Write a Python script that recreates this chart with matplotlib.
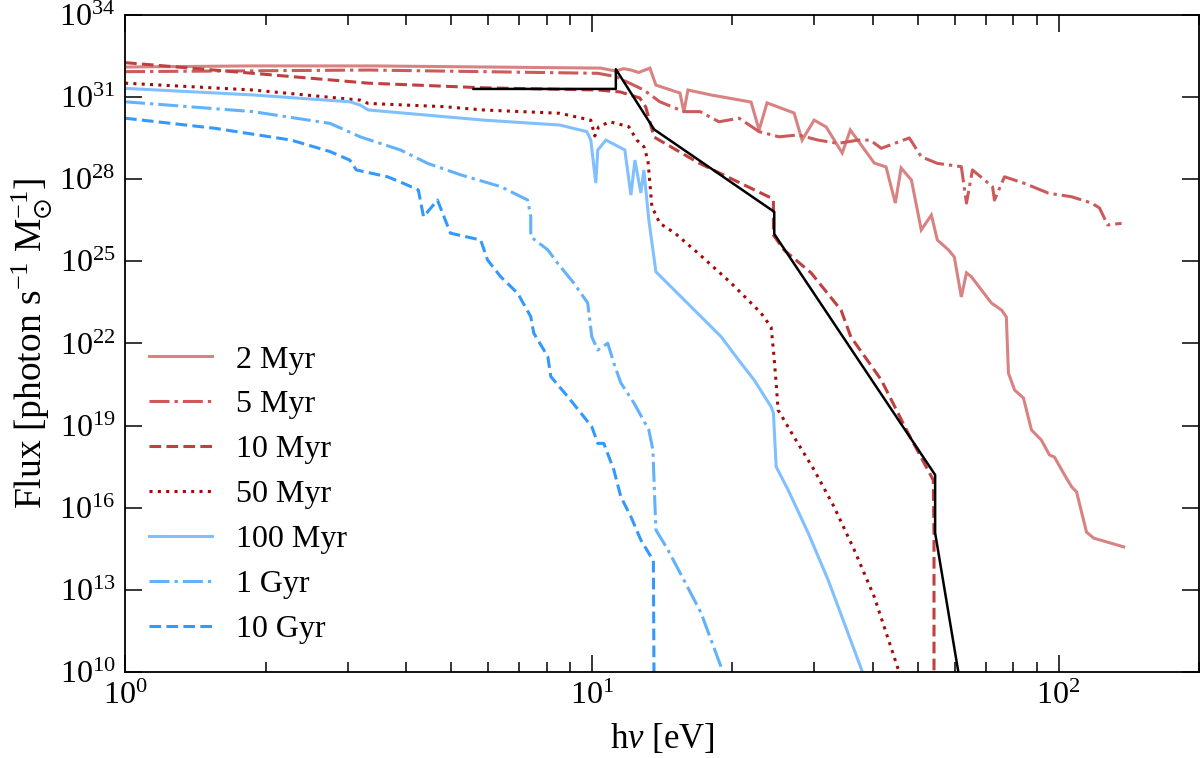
import numpy as np
import matplotlib
matplotlib.use("Agg")
import matplotlib.pyplot as plt
from matplotlib.ticker import FixedLocator, NullLocator, LogLocator, NullFormatter, LogFormatterMathtext

plt.rcParams['font.family'] = ['Liberation Serif', 'DejaVu Serif']
plt.rcParams['mathtext.fontset'] = 'custom'
plt.rcParams['mathtext.rm'] = 'Liberation Serif'
plt.rcParams['mathtext.it'] = 'Liberation Serif:italic'
plt.rcParams['mathtext.bf'] = 'Liberation Serif:bold'
plt.rcParams['mathtext.fallback'] = 'stix'
plt.rcParams['lines.scale_dashes'] = False

# ---------------- data (photon energy in eV, log10 flux) ----------------
e_2myr = [1.00, 1.85, 3.41, 10.46, 11.26, 11.7, 12.13, 12.6, 13.32, 13.72, 15.45, 15.75, 16.07, 18.0,
          21.94, 22.83, 23.74, 27.13, 28.22, 29.95, 31.78, 34.4, 35.8, 40.3, 42.7, 44.7,
          46.0, 48.4, 50.8, 53.4, 55.0, 58.1, 59.8, 61.9, 63.5, 65.1, 71.8, 75.5, 77.3,
          78.1, 80.5, 84.1, 87.5, 91.9, 95.6, 98.0, 103.0, 106.7, 109.3, 114.8, 118.9, 137.9]
f_2myr = [32.10, 32.14, 32.14, 32.06, 31.95, 32.04, 31.99, 31.90, 32.06, 31.44, 31.15, 30.46, 31.26, 31.08,
          30.82, 29.80, 30.79, 30.42, 29.43, 30.16, 29.91, 28.96, 29.80, 28.59, 28.45, 27.13,
          28.41, 27.97, 26.15, 26.69, 25.78, 25.42, 25.16, 23.70, 24.58, 24.43, 23.48, 23.22, 22.97,
          20.92, 20.30, 20.01, 18.84, 18.47, 17.93, 17.85, 17.20, 16.76, 16.58, 15.11, 14.89, 14.57]

e_5myr = [1.00, 3.32, 5.87, 10.3, 11.26, 12.93, 13.99, 15.75, 17.06, 18.73, 20.68, 22.83,
          25.19, 27.67, 30.55, 33.7, 37.2, 39.5, 41.7, 47.9, 50.8, 55.0, 61.9, 63.5, 65.4,
          72.2, 72.9, 76.6, 84.5, 95.2, 106.7, 117.7, 122.4, 127.4, 136.5]
f_5myr = [31.93, 31.99, 31.93, 31.87, 31.75, 31.26, 30.83, 30.47, 30.47, 30.10, 30.23, 29.74,
          29.55, 29.62, 29.43, 29.31, 29.43, 29.43, 29.13, 29.51, 28.82, 28.58, 28.46, 27.13, 28.34,
          27.73, 27.24, 28.09, 27.85, 27.49, 27.36, 27.13, 26.95, 26.33, 26.39]

e_10myr = [1.00, 1.88, 3.32, 5.87, 10.3, 11.5, 12.67, 13.05, 13.6, 16.97, 24.2, 24.5, 24.5,
           25.8, 29.5, 34.2, 35.9, 41.7, 47.6, 53.9, 54.1, 54.1]
f_10myr = [32.26, 31.87, 31.51, 31.34, 31.26, 31.19, 30.97, 30.64, 29.54, 28.59, 27.32, 27.24, 25.96,
           25.42, 24.58, 23.22, 22.24, 20.67, 18.73, 17.01, 15.0, 9.0]

e_50myr = [1.00, 1.88, 3.19, 3.32, 4.84, 5.87, 8.54, 9.95, 10.15, 10.35, 10.93, 12.0, 12.49,
           12.93, 13.19, 13.45, 13.99, 15.07, 16.89, 19.88, 23.05, 24.22, 24.5, 24.83, 25.07,
           27.13, 29.95, 33.05, 36.5, 40.3, 45.4, 46.3]
f_50myr = [31.51, 31.26, 30.89, 30.77, 30.65, 30.53, 30.41, 30.16, 29.58, 29.92, 30.10, 29.92, 29.43,
           29.19, 28.70, 27.0, 26.39, 26.03, 25.30, 24.21, 23.11, 22.60, 21.76, 20.56, 19.57,
           18.58, 17.38, 16.03, 14.46, 12.74, 10.07, 9.5]

e_100myr = [1.00, 1.88, 3.03, 3.19, 3.32, 5.87, 8.54, 9.76, 9.95, 10.2, 10.3, 10.72, 11.77,
            12.13, 12.37, 12.74, 12.93, 13.25, 13.72, 17.14, 18.92, 20.88, 22.27, 24.22, 24.5,
            24.83, 26.34, 29.08, 32.09, 34.74, 37.8, 38.4]
f_100myr = [31.32, 31.08, 30.83, 30.71, 30.53, 30.16, 29.98, 29.74, 29.43, 27.86, 29.07, 29.43, 29.07,
            27.42, 28.70, 27.50, 28.34, 26.51, 24.62, 22.98, 22.25, 21.28, 20.67, 19.69, 19.46,
            17.50, 16.65, 15.08, 13.36, 11.79, 10.11, 9.75]

e_1gyr = [1.00, 1.88, 2.75, 3.19, 3.89, 4.45, 5.24, 6.38, 7.29, 7.40, 7.40, 8.05, 8.45, 9.15,
          9.80, 10.0, 10.3, 10.82, 11.15, 11.54, 12.31, 13.25, 13.52, 13.6, 13.72, 14.56,
          15.75, 17.14, 19.1, 19.4]
f_1gyr = [30.83, 30.47, 30.04, 29.55, 29.07, 28.58, 28.16, 27.73, 27.24, 26.63, 25.90, 25.42, 24.93,
          24.21, 23.48, 22.25, 21.76, 22.01, 21.28, 20.56, 19.83, 18.84, 18.11, 16.90, 15.19, 14.46,
          13.36, 12.16, 10.0, 9.71]

e_10gyr = [1.00, 1.56, 2.27, 2.75, 3.03, 3.13, 3.65, 3.89, 4.25, 4.36, 4.67, 4.98, 5.78, 5.98,
           6.38, 6.94, 7.40, 7.51, 8.05, 8.17, 8.88, 10.0, 10.3, 10.61, 11.15, 11.54, 12.13,
           12.74, 13.39, 13.55, 13.6]
f_10gyr = [30.23, 29.86, 29.43, 29.01, 28.70, 28.34, 28.09, 27.90, 27.61, 26.63, 27.24, 26.03, 25.78,
           25.05, 24.44, 23.83, 22.98, 22.38, 21.52, 20.79, 20.06, 18.96, 18.35, 18.35, 17.38, 16.40,
           15.67, 14.82, 14.21, 14.09, 9.0]

e_ref = [5.58, 11.26, 11.26, 13.6, 24.6, 24.6, 54.4, 54.4, 60.9, 62.0]
f_ref = [31.30, 31.30, 32.02, 29.82, 26.81, 26.00, 17.20, 15.08, 10.07, 9.3]

labels = ['2 Myr', '5 Myr', '10 Myr', '50 Myr', '100 Myr', '1 Gyr', '10 Gyr']
xlim = (1, 200)
ylim = (1e10, 1e34)

# ---------------- styling ----------------
series = [
    (e_2myr, f_2myr, '#d88282', None),
    (e_5myr, f_5myr, '#cc5a5a', (14.4, 3.6, 2.4, 3.6)),
    (e_10myr, f_10myr, '#c04040', (8.4, 3.8)),
    (e_50myr, f_50myr, '#a50a0a', (2.2, 3.8)),
    (e_100myr, f_100myr, '#80c0ff', None),
    (e_1gyr, f_1gyr, '#62b2fb', (14.4, 3.6, 2.4, 3.6)),
    (e_10gyr, f_10gyr, '#3399fa', (8.4, 3.8)),
]

fig = plt.figure(figsize=(12, 7.58), dpi=100)
ax = fig.add_axes([0.1042, 0.1135, 0.895, 0.8667])

for (e, f, c, d), lab in zip(series, labels):
    kw = dict(color=c, lw=2.2, label=lab, solid_joinstyle='miter')
    if d is not None:
        kw['dashes'] = d
        kw['dash_capstyle'] = 'butt'
    ax.plot(e, 10.0 ** np.asarray(f), **kw)

ax.plot(e_ref, 10.0 ** np.asarray(f_ref), color='black', lw=1.8, zorder=5)

ax.set_xscale('log')
ax.set_yscale('log')
ax.set_xlim(*xlim)
ax.set_ylim(*ylim)

ax.yaxis.set_major_locator(FixedLocator(10.0 ** np.arange(10, 35, 3)))
ax.yaxis.set_minor_locator(NullLocator())
ax.yaxis.set_major_formatter(LogFormatterMathtext())
ax.xaxis.set_major_locator(FixedLocator([1, 10, 100]))
ax.xaxis.set_minor_locator(LogLocator(base=10, subs=np.arange(2, 10), numticks=20))
ax.xaxis.set_minor_formatter(NullFormatter())
ax.xaxis.set_major_formatter(LogFormatterMathtext())

ax.tick_params(which='both', direction='in', top=True, right=True, width=1.1, labelsize=23)
ax.tick_params(which='major', length=12, pad=7)
ax.tick_params(which='minor', length=7)
for s in ax.spines.values():
    s.set_linewidth(1.3)

ax.set_xlabel(r'h$\nu$ [eV]', fontsize=25, labelpad=8)
ax.set_ylabel(r'Flux [photon s$^{-1}$ M$_{\odot}^{-1}$]', fontsize=27, labelpad=4)

leg = ax.legend(loc='lower left', bbox_to_anchor=(0.022, 0.043), frameon=False, fontsize=23,
                handlelength=1.97, handletextpad=0.75, labelspacing=0.485, borderaxespad=0.0,
                borderpad=0.0)

fig.savefig('out.png', dpi=100)
